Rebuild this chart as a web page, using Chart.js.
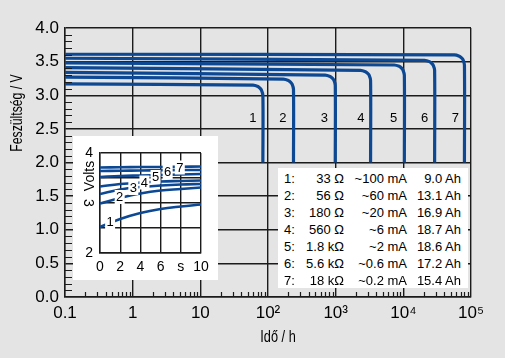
<!DOCTYPE html>
<html><head><meta charset="utf-8">
<script src="https://cdn.jsdelivr.net/npm/chart.js@4.4.0/dist/chart.umd.min.js"></script>
<style>
html,body{margin:0;padding:0;background:#e4e4e4;}
#wrap{position:relative;width:505px;height:358px;background:#e4e4e4;overflow:hidden;font-family:'Liberation Sans',Arial,sans-serif;}
#main{position:absolute;left:0;top:0;}
#inset{position:absolute;left:73px;top:136px;background:#fff;}
#table{position:absolute;left:278px;top:168px;width:190px;height:120px;background:#fff;font-size:13px;color:#000;}
.row{position:absolute;left:0;height:17px;line-height:17px;width:190px;}
.row span{position:absolute;top:0;white-space:nowrap;}
</style></head>
<body>
<div id="wrap">
<canvas id="main" width="505" height="358"></canvas>
<canvas id="inset" width="145" height="144"></canvas>
<div id="table"></div>
</div>
<script>
// ---------- data ----------
const curveNames = ['1','2','3','4','5','6','7'];
// main discharge curves: [time h, voltage V]
const curve1 = [[0.1,3.17],[60,3.15],[71,3.13],[76,3.105],[80,3.075],[84,3.0],[84,2.0]];
const curve2 = [[0.1,3.27],[169,3.24],[200,3.22],[215,3.195],[227,3.165],[238,3.09],[238,2.0]];
const curve3 = [[0.1,3.34],[700,3.30],[828,3.28],[892,3.255],[942,3.225],[986,3.15],[986,2.0]];
const curve4 = [[0.1,3.41],[2330,3.37],[2755,3.35],[2968,3.325],[3132,3.295],[3280,3.22],[3280,2.0]];
const curve5 = [[0.1,3.48],[7350,3.45],[8690,3.43],[9370,3.405],[9880,3.375],[10350,3.30],[10350,2.0]];
const curve6 = [[0.1,3.55],[20600,3.52],[24400,3.50],[26200,3.475],[27700,3.445],[29000,3.37],[29000,2.0]];
const curve7 = [[0.1,3.61],[56800,3.60],[67200,3.58],[72400,3.555],[76400,3.525],[80000,3.45],[80000,2.0]];
const mainCurves = [curve1,curve2,curve3,curve4,curve5,curve6,curve7];

const xTickValues = [0.1,1,10,100,1000,10000,100000];
const xTickLabels = ['0.1','1','10','10\u00B2','10\u00B3','10\u2074','10\u2075'];
const yTitle = 'Feszültség / V';
const xTitle = 'Idő / h';

// inset: first 10 seconds
const insetTime = [0,2,4,6,8,10];
const inset1 = [2.52,2.68,2.80,2.88,2.93,2.97];
const inset2 = [2.99,3.10,3.19,3.25,3.28,3.31];
const inset3 = [3.18,3.27,3.32,3.35,3.37,3.38];
const inset4 = [3.33,3.38,3.41,3.43,3.44,3.45];
const inset5 = [3.52,3.54,3.55,3.56,3.57,3.58];
const inset6 = [3.64,3.645,3.65,3.655,3.66,3.66];
const inset7 = [3.71,3.715,3.72,3.72,3.725,3.73];
const insetCurves = [inset1,inset2,inset3,inset4,inset5,inset6,inset7];
const insetXTicks = [0,2,4,6,8,10];
const insetXLabels = ['0','2','4','6','s','10'];
const insetYTitle = 'Volts';

// legend table
const rowIds = ['1:','2:','3:','4:','5:','6:','7:'];
const resistances = ['33 Ω','56 Ω','180 Ω','560 Ω','1.8 kΩ','5.6 kΩ','18 kΩ'];
const currents = ['~100 mA','~60 mA','~20 mA','~6 mA','~2 mA','~0.6 mA','~0.2 mA'];
const capacities = ['9.0 Ah','13.1 Ah','16.9 Ah','18.7 Ah','18.6 Ah','17.2 Ah','15.4 Ah'];

// ---------- annotation placement (layout, not data) ----------
const mainLabelT = [60,166,678,2366,7190,20650,58750];
const mainLabelV = 2.66;
const insetLabelT = [1.0,1.95,3.3,4.4,5.5,6.7,7.9];
const insetLabelV = [2.62,3.12,3.30,3.41,3.52,3.62,3.71];

const BLUE = '#0c4893';
const GRID = '#1b1b1b';
const FONT = "'Liberation Sans', Arial, sans-serif";

// ---------- main chart ----------
const decor = {
  id:'decor',
  afterDatasetsDraw(chart){
    const {ctx, chartArea:a, scales:{x,y}} = chart;
    ctx.save();
    ctx.strokeStyle = GRID; ctx.lineWidth = 1.2;
    ctx.beginPath();
    for (let i=1;i<40;i++){
      if (i%5===0) continue;
      const py = Math.round(y.getPixelForValue(i/10))+0.5;
      ctx.moveTo(a.left, py); ctx.lineTo(a.left+7, py);
    }
    for (let e=-1;e<=4;e++){
      for (let k=2;k<=9;k++){
        const px = Math.round(x.getPixelForValue(k*Math.pow(10,e)))+0.5;
        ctx.moveTo(px, a.bottom); ctx.lineTo(px, a.bottom-5);
      }
    }
    ctx.stroke();
    ctx.fillStyle = '#000';
    ctx.font = '13px ' + FONT;
    ctx.textAlign = 'center'; ctx.textBaseline = 'middle';
    curveNames.forEach((n,i)=>{
      ctx.fillText(n, x.getPixelForValue(mainLabelT[i]), y.getPixelForValue(mainLabelV));
    });
    // axis titles
    ctx.font = '17px ' + FONT;
    ctx.save();
    ctx.translate(17, 113); ctx.rotate(-Math.PI/2); ctx.scale(0.72,1);
    ctx.fillText(yTitle, 0, 0);
    ctx.restore();
    ctx.save();
    ctx.translate(278, 337); ctx.scale(0.75,1);
    ctx.fillText(xTitle, 0, 0);
    ctx.restore();
    ctx.restore();
  }
};

new Chart(document.getElementById('main'), {
  type:'line',
  data:{datasets: mainCurves.map((c,i)=>({
    label: curveNames[i],
    data: c.map(p=>({x:p[0], y:p[1]})),
    borderColor: BLUE, borderWidth: 3.2, pointRadius: 0, tension: 0.3, fill:false
  }))},
  options:{
    responsive:false, animation:false, devicePixelRatio:1,
    layout:{padding:{top:28,right:34,left:0,bottom:0}},
    plugins:{legend:{display:false}, tooltip:{enabled:false}},
    scales:{
      x:{type:'logarithmic', min:0.1, max:100000,
        afterBuildTicks: s=>{ s.ticks = xTickValues.map(v=>({value:v})); },
        afterFit: s=>{ s.height = 61; },
        ticks:{callback:(v)=>xTickLabels[xTickValues.indexOf(v)], autoSkip:false, maxRotation:0, padding:6, color:'#000', font:{family:FONT, size:17}},
        grid:{color:GRID, lineWidth:1.4, drawTicks:false},
        border:{color:GRID, width:1.4}
      },
      y:{min:0, max:4,
        afterFit: s=>{ s.width = 65; },
        ticks:{stepSize:0.5, callback:v=>v.toFixed(1), padding:6, color:'#000', font:{family:FONT, size:17}},
        grid:{color:GRID, lineWidth:1.4, drawTicks:false},
        border:{color:GRID, width:1.4}
      }
    }
  },
  plugins:[decor]
});

// ---------- inset chart ----------
const insetDecor = {
  id:'insetDecor',
  afterDatasetsDraw(chart){
    const {ctx, scales:{x,y}} = chart;
    ctx.save();
    ctx.font = '13px ' + FONT;
    ctx.textAlign='center'; ctx.textBaseline='middle';
    curveNames.forEach((n,i)=>{
      const px = x.getPixelForValue(insetLabelT[i]);
      const py = y.getPixelForValue(insetLabelV[i]);
      ctx.fillStyle='#fff'; ctx.fillRect(px-5, py-7, 10, 14);
      ctx.fillStyle='#000'; ctx.fillText(n, px, py+0.5);
    });
    ctx.font = '14px ' + FONT;
    ctx.save(); ctx.translate(17, 40); ctx.rotate(-Math.PI/2); ctx.fillText(insetYTitle,0,0); ctx.restore();
    ctx.save(); ctx.translate(15, y.getPixelForValue(3)); ctx.rotate(Math.PI/2); ctx.fillText('3',0,0); ctx.restore();
    ctx.restore();
  }
};

new Chart(document.getElementById('inset'), {
  type:'line',
  data:{datasets: insetCurves.map((c,i)=>({
    label: curveNames[i],
    data: c.map((v,j)=>({x:insetTime[j], y:v})),
    borderColor: BLUE, borderWidth: 2.6, pointRadius: 0, tension: 0.4, fill:false
  }))},
  options:{
    responsive:false, animation:false, devicePixelRatio:1,
    layout:{padding:{top:17,right:17,left:0,bottom:0}},
    plugins:{legend:{display:false}, tooltip:{enabled:false}},
    scales:{
      x:{type:'linear', min:0, max:10,
        afterBuildTicks: s=>{ s.ticks = insetXTicks.map(v=>({value:v})); },
        afterFit: s=>{ s.height = 27; },
        ticks:{callback:(v)=>insetXLabels[insetXTicks.indexOf(v)], autoSkip:false, maxRotation:0, padding:6, color:'#000', font:{family:FONT, size:14}},
        grid:{color:GRID, lineWidth:1.4, drawTicks:false},
        border:{color:GRID, width:1.4}
      },
      y:{min:2, max:4,
        afterFit: s=>{ s.width = 27; },
        ticks:{stepSize:0.5, callback:v=>(v===2||v===4)?String(v):'', padding:7, color:'#000', font:{family:FONT, size:14}},
        grid:{color:GRID, lineWidth:1.4, drawTicks:false},
        border:{color:GRID, width:1.4}
      }
    }
  },
  plugins:[insetDecor]
});

// ---------- table ----------
const tbl = document.getElementById('table');
rowIds.forEach((id,i)=>{
  const r = document.createElement('div');
  r.className='row';
  r.style.top = (2 + 17.05*i) + 'px';
  r.innerHTML = '<span style="left:6px">'+id+'</span>'+
    '<span style="right:124px">'+resistances[i]+'</span>'+
    '<span style="right:61px">'+currents[i]+'</span>'+
    '<span style="right:7px">'+capacities[i]+'</span>';
  tbl.appendChild(r);
});
</script>
</body></html>
